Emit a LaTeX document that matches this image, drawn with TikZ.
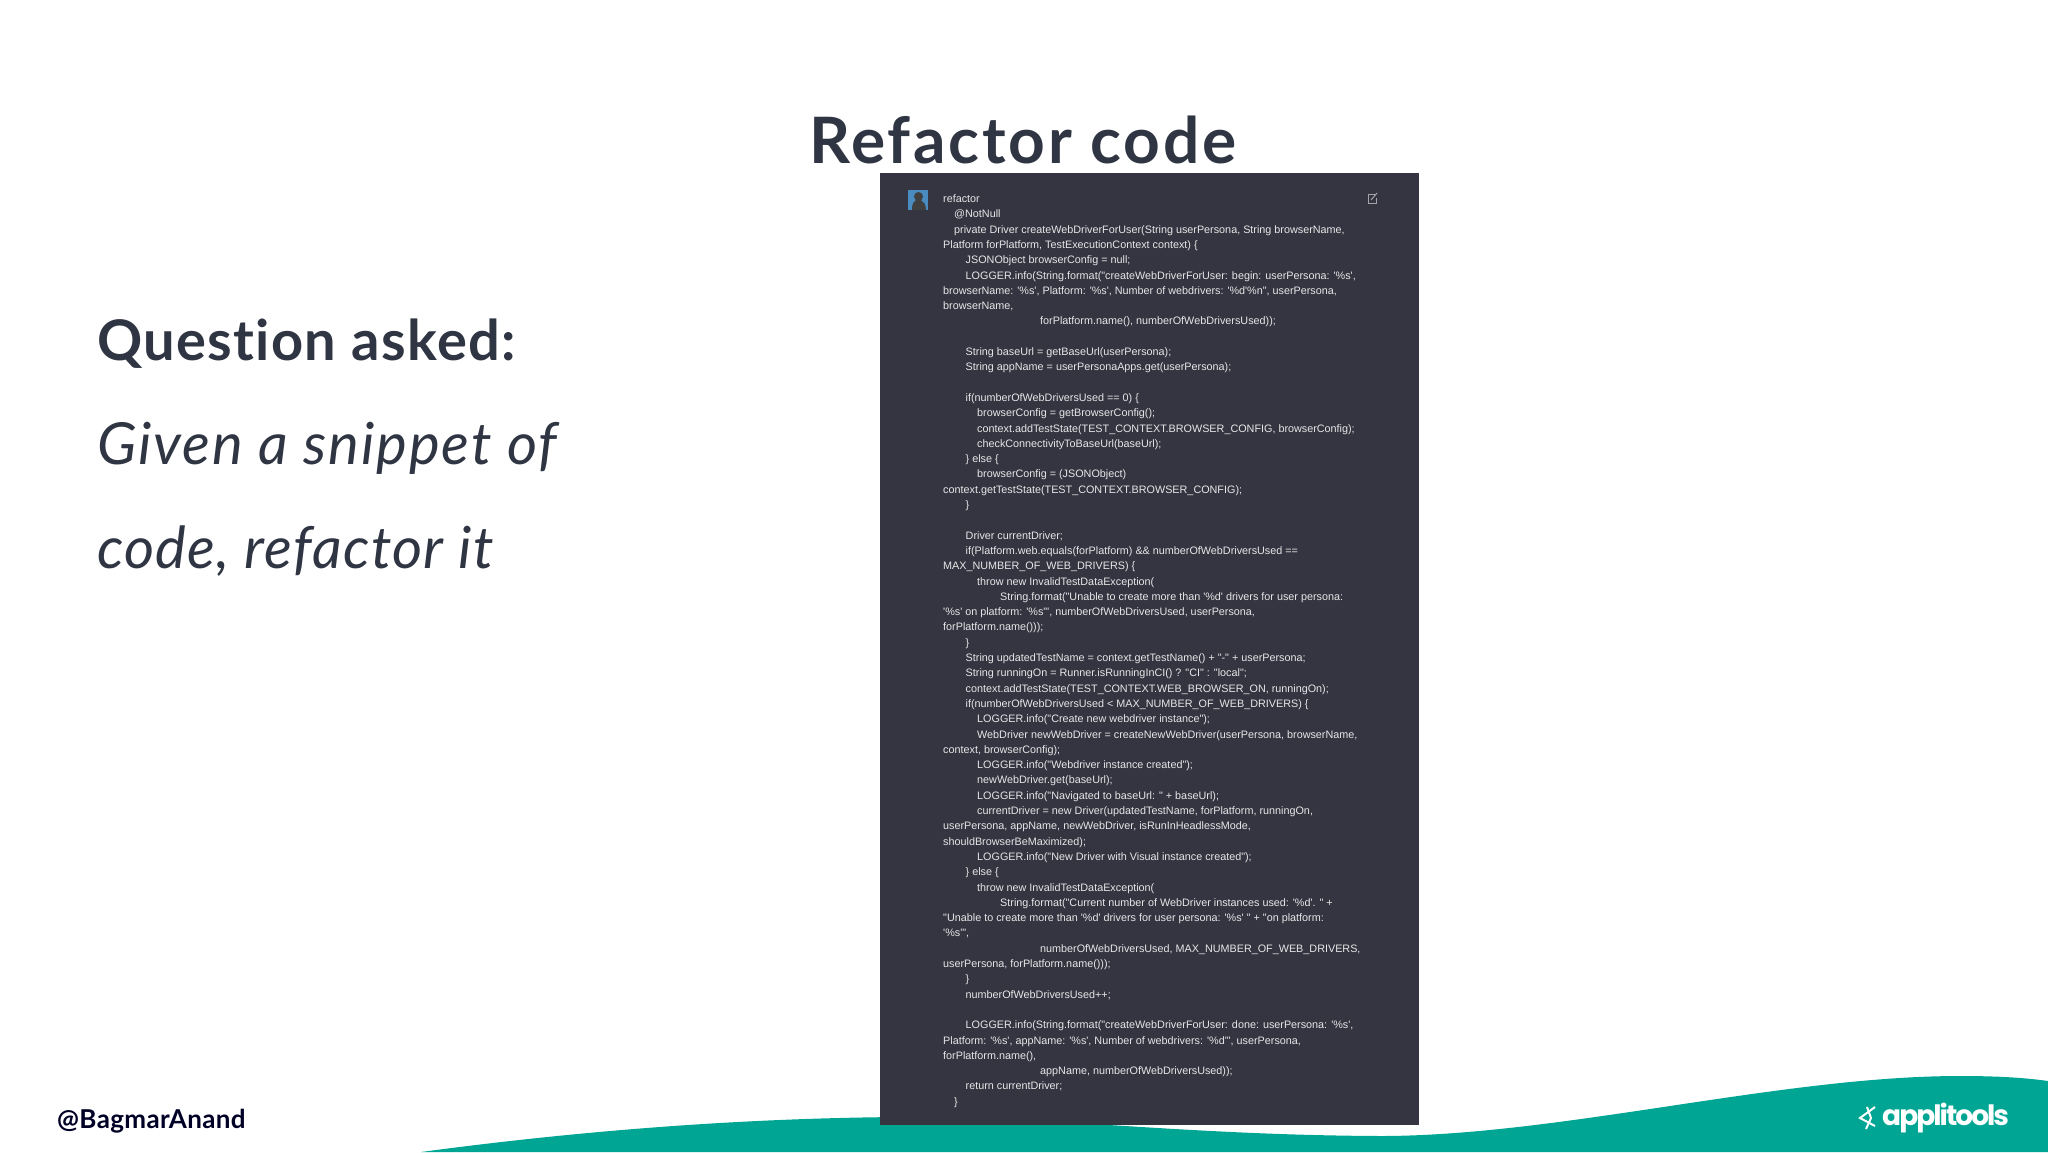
\documentclass[tikz,border=0pt]{standalone}
\usepackage{fontspec}
\setmainfont{Lato}[Ligatures=NoCommon]
\newfontfamily\codefont{Liberation Sans}
\newfontfamily\logofont{Poppins}
\usetikzlibrary{positioning, calc}

\definecolor{slateink}{HTML}{2F3542}
\definecolor{panelgray}{HTML}{343541}
\definecolor{waveteal}{HTML}{00A693}
\definecolor{avatarblue}{HTML}{4A8CC0}

% one line of the code panel: indent, row, text
\newcommand{\codeline}[3]{%
  \node[codetext] (code#2) at ($(943+#1,202.5)+(0,15.3*#2)$) {#3};%
}

\begin{document}
\begin{tikzpicture}[
  x=1pt,
  y=-1pt,
  codetext/.style={anchor=base west,inner sep=0pt,text=white!88!panelgray,
    font=\codefont\fontsize{10.8}{13}\selectfont},
  titletext/.style={anchor=base west,inner sep=0pt,text=slateink,
    font=\fontsize{64}{70}\selectfont\bfseries\addfontfeature{LetterSpace=4.4}},
  bodytext/.style={anchor=base west,inner sep=0pt,text=slateink}
]
\useasboundingbox (0,0) rectangle (2048,1152);
\fill[white] (0,0) rectangle (2048,1152);

% Wave along the bottom
\fill[waveteal] (421,1152) .. controls (600,1128) and (760,1118) .. (900,1117)
  .. controls (1050,1116) and (1180,1135) .. (1380,1136)
  .. controls (1560,1136) and (1780,1076) .. (1960,1076)
  .. controls (1990,1076) and (2020,1077) .. (2048,1081)
  -- (2048,1152) -- cycle;

% Titles and question
\node[titletext] (title) at (809,163) {Refactor code};
\node[bodytext,font=\fontsize{56}{60}\selectfont\bfseries\addfontfeature{LetterSpace=2.4}] (question) at (97,360) {Question asked:};
\node[bodytext,font=\fontsize{58}{60}\selectfont\itshape\addfontfeature{LetterSpace=3.3}] (given) at (97,464) {Given a snippet of};
\node[bodytext,font=\fontsize{58}{60}\selectfont\itshape\addfontfeature{LetterSpace=2.3}] (refactorit) at (97,568) {code, refactor it};
\node[anchor=base west,inner sep=0pt,text=black!85!blue,font=\fontsize{26}{28}\selectfont\bfseries\addfontfeature{LetterSpace=1.4}] (handle) at (57,1128) {@BagmarAnand};

% Logo
\node[anchor=base west,inner sep=0pt,text=white,font=\logofont\fontsize{28}{34}\selectfont\bfseries\addfontfeature{LetterSpace=-7}] (logo) at (1882,1125) {applitools};
\draw[white,line width=2pt] (1875,1107) -- (1860,1118) -- (1875,1126);
\draw[white,line width=2pt] (1867,1107) -- (1871,1118) -- (1866,1129);

% Code panel
\fill[panelgray] (880,173) rectangle (1419,1125);
\fill[avatarblue] (908,190) rectangle (928,210);
\fill[black!75] (912,210) .. controls (912,203) and (914,201) .. (916,200)
  -- (921,200) .. controls (924,202) and (926,205) .. (926,210) -- cycle;
\fill[black!75] (918.5,196.5) circle[radius=4.5];
\draw[white!55!panelgray,line width=0.9pt] (1375,194.5) -- (1368,194.5) -- (1368,203) -- (1376,203) -- (1376,198);
\draw[white!55!panelgray,line width=1pt] (1371,200) -- (1377,193);

\codeline{0}{0}{refactor}
\codeline{11}{1}{@NotNull}
\codeline{11}{2}{private Driver createWebDriverForUser(String userPersona, String browserName,}
\codeline{0}{3}{Platform forPlatform, TestExecutionContext context) \{}
\codeline{22.5}{4}{JSONObject browserConfig = null;}
\codeline{22.5}{5}{LOGGER.info(String.format("createWebDriverForUser: begin: userPersona: '\%s',}
\codeline{0}{6}{browserName: '\%s', Platform: '\%s', Number of webdrivers: '\%d'\%n", userPersona,}
\codeline{0}{7}{browserName,}
\codeline{97}{8}{forPlatform.name(), numberOfWebDriversUsed));}
\codeline{22.5}{10}{String baseUrl = getBaseUrl(userPersona);}
\codeline{22.5}{11}{String appName = userPersonaApps.get(userPersona);}
\codeline{22.5}{13}{if(numberOfWebDriversUsed == 0) \{}
\codeline{34}{14}{browserConfig = getBrowserConfig();}
\codeline{34}{15}{context.addTestState(TEST\_CONTEXT.BROWSER\_CONFIG, browserConfig);}
\codeline{34}{16}{checkConnectivityToBaseUrl(baseUrl);}
\codeline{22.5}{17}{\} else \{}
\codeline{34}{18}{browserConfig = (JSONObject)}
\codeline{0}{19}{context.getTestState(TEST\_CONTEXT.BROWSER\_CONFIG);}
\codeline{22.5}{20}{\}}
\codeline{22.5}{22}{Driver currentDriver;}
\codeline{22.5}{23}{if(Platform.web.equals(forPlatform) \&\& numberOfWebDriversUsed ==}
\codeline{0}{24}{MAX\_NUMBER\_OF\_WEB\_DRIVERS) \{}
\codeline{34}{25}{throw new InvalidTestDataException(}
\codeline{57}{26}{String.format("Unable to create more than '\%d' drivers for user persona:}
\codeline{0}{27}{'\%s' on platform: '\%s'", numberOfWebDriversUsed, userPersona,}
\codeline{0}{28}{forPlatform.name()));}
\codeline{22.5}{29}{\}}
\codeline{22.5}{30}{String updatedTestName = context.getTestName() + "-" + userPersona;}
\codeline{22.5}{31}{String runningOn = Runner.isRunningInCI() ? "CI" : "local";}
\codeline{22.5}{32}{context.addTestState(TEST\_CONTEXT.WEB\_BROWSER\_ON, runningOn);}
\codeline{22.5}{33}{if(numberOfWebDriversUsed < MAX\_NUMBER\_OF\_WEB\_DRIVERS) \{}
\codeline{34}{34}{LOGGER.info("Create new webdriver instance");}
\codeline{34}{35}{WebDriver newWebDriver = createNewWebDriver(userPersona, browserName,}
\codeline{0}{36}{context, browserConfig);}
\codeline{34}{37}{LOGGER.info("Webdriver instance created");}
\codeline{34}{38}{newWebDriver.get(baseUrl);}
\codeline{34}{39}{LOGGER.info("Navigated to baseUrl: " + baseUrl);}
\codeline{34}{40}{currentDriver = new Driver(updatedTestName, forPlatform, runningOn,}
\codeline{0}{41}{userPersona, appName, newWebDriver, isRunInHeadlessMode,}
\codeline{0}{42}{shouldBrowserBeMaximized);}
\codeline{34}{43}{LOGGER.info("New Driver with Visual instance created");}
\codeline{22.5}{44}{\} else \{}
\codeline{34}{45}{throw new InvalidTestDataException(}
\codeline{57}{46}{String.format("Current number of WebDriver instances used: '\%d'. " +}
\codeline{0}{47}{"Unable to create more than '\%d' drivers for user persona: '\%s' " + "on platform:}
\codeline{0}{48}{'\%s'",}
\codeline{97}{49}{numberOfWebDriversUsed, MAX\_NUMBER\_OF\_WEB\_DRIVERS,}
\codeline{0}{50}{userPersona, forPlatform.name()));}
\codeline{22.5}{51}{\}}
\codeline{22.5}{52}{numberOfWebDriversUsed++;}
\codeline{22.5}{54}{LOGGER.info(String.format("createWebDriverForUser: done: userPersona: '\%s',}
\codeline{0}{55}{Platform: '\%s', appName: '\%s', Number of webdrivers: '\%d'", userPersona,}
\codeline{0}{56}{forPlatform.name(),}
\codeline{97}{57}{appName, numberOfWebDriversUsed));}
\codeline{22.5}{58}{return currentDriver;}
\codeline{11}{59}{\}}

\end{tikzpicture}
\end{document}
